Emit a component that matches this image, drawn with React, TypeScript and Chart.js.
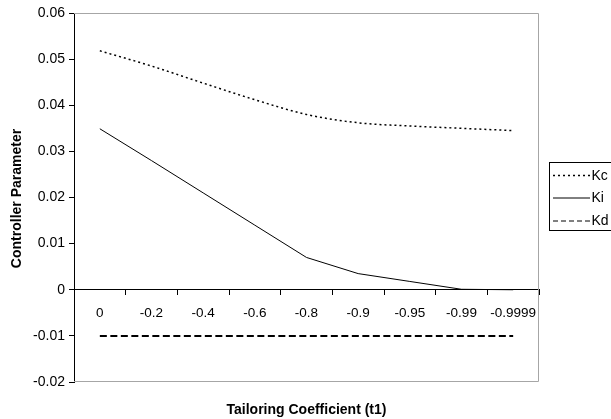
import React, { useEffect, useRef } from "react";
import { Chart, registerables } from "chart.js";

Chart.register(...registerables);

const categories = ["0", "-0.2", "-0.4", "-0.6", "-0.8", "-0.9", "-0.95", "-0.99", "-0.9999"];
const kcValues = [0.0518, 0.0485, 0.0448, 0.0412, 0.038, 0.0362, 0.0355, 0.035, 0.0345];
const kiValues = [0.0349, 0.028, 0.021, 0.014, 0.007, 0.0035, 0.0018, 0.0001, 0.0];
const kdValues = [-0.01, -0.01, -0.01, -0.01, -0.01, -0.01, -0.01, -0.01, -0.01];
const yMin = -0.02;
const yMax = 0.06;
const yStep = 0.01;
const xTitle = "Tailoring Coefficient (t1)";
const yTitle = "Controller Parameter";
const legendItems = [
  { label: "Kc", dash: [2, 3], width: 1.5 },
  { label: "Ki", dash: [], width: 1 },
  { label: "Kd", dash: [5, 3], width: 1 },
];

const FONT = "'Liberation Sans', Arial, sans-serif";

const decorPlugin = {
  id: "decor",
  beforeDatasetsDraw(chart: any) {
    const { ctx, chartArea } = chart;
    const { left, right, top, bottom } = chartArea;
    ctx.save();
    ctx.strokeStyle = "#a6a6a6";
    ctx.lineWidth = 1;
    ctx.beginPath();
    ctx.moveTo(left, top + 0.5);
    ctx.lineTo(right - 0.5, top + 0.5);
    ctx.lineTo(right - 0.5, bottom - 0.5);
    ctx.lineTo(left, bottom - 0.5);
    ctx.stroke();
    ctx.restore();
  },
  afterDraw(chart: any) {
    const { ctx, chartArea } = chart;
    const { left, right, top, bottom } = chartArea;
    ctx.save();
    // axis titles
    ctx.fillStyle = "#000";
    ctx.font = `bold 14px ${FONT}`;
    ctx.textAlign = "center";
    ctx.textBaseline = "middle";
    ctx.fillText(xTitle, (left + right) / 2, 410);
    ctx.save();
    ctx.translate(17.5, (top + bottom) / 2 + 1);
    ctx.rotate(-Math.PI / 2);
    ctx.fillText(yTitle, 0, 0);
    ctx.restore();

    // legend
    const bx = 549.5;
    const by = 162.5;
    const bw = 80;
    const bh = 68;
    ctx.strokeStyle = "#000";
    ctx.lineWidth = 1;
    ctx.strokeRect(bx, by, bw, bh);
    ctx.font = `14px ${FONT}`;
    ctx.textAlign = "left";
    const ys = [175.5, 198, 221];
    legendItems.forEach((it, i) => {
      ctx.beginPath();
      ctx.setLineDash(it.dash);
      ctx.lineWidth = it.width;
      ctx.moveTo(553, ys[i]);
      ctx.lineTo(590, ys[i]);
      ctx.stroke();
      ctx.setLineDash([]);
      ctx.fillText(it.label, 591.5, ys[i] + 0.5);
    });
    ctx.restore();
  },
};

export default function App() {
  const ref = useRef<HTMLCanvasElement | null>(null);
  useEffect(() => {
    if (!ref.current) return;
    const chart = new Chart(ref.current, {
      type: "line",
      data: {
        labels: categories,
        datasets: [
          {
            label: "Kc",
            data: kcValues,
            borderColor: "#000",
            borderWidth: 1.5,
            borderDash: [2, 3],
            pointRadius: 0,
            cubicInterpolationMode: "monotone",
            fill: false,
          },
          {
            label: "Ki",
            data: kiValues,
            borderColor: "#000",
            borderWidth: 1,
            pointRadius: 0,
            tension: 0,
            fill: false,
          },
          {
            label: "Kd",
            data: kdValues,
            borderColor: "#000",
            borderWidth: 2,
            borderDash: [7, 3.5],
            pointRadius: 0,
            fill: false,
          },
        ],
      },
      options: {
        responsive: false,
        animation: false,
        devicePixelRatio: 1,
        layout: { padding: { left: 0, right: 72, top: 13, bottom: 37 } },
        plugins: {
          legend: { display: false },
          tooltip: { enabled: false },
        },
        scales: {
          y: {
            type: "linear",
            position: "left",
            min: yMin,
            max: yMax,
            afterFit(scale: any) {
              scale.width = 74;
            },
            ticks: {
              stepSize: yStep,
              color: "#000",
              font: { family: FONT, size: 14 },
              padding: 4,
              callback: (v: any) => String(Number(Number(v).toFixed(2))),
            },
            grid: {
              drawOnChartArea: false,
              color: "#000",
              tickLength: 5,
            },
            border: { display: true, color: "#000", width: 1 },
          },
          x: {
            type: "category",
            position: { y: 0 } as any,
            offset: true,
            ticks: {
              color: "#000",
              font: { family: FONT, size: 13.5 },
              padding: 10.5,
              maxRotation: 0,
              autoSkip: false,
            },
            grid: {
              offset: true,
              drawOnChartArea: false,
              color: "#000",
              tickLength: 5,
            },
            border: { display: true, color: "#000", width: 1 },
          },
        },
      },
      plugins: [decorPlugin],
    });
    return () => chart.destroy();
  }, []);
  return (
    <div style={{ position: "absolute", left: 0, top: 0, width: 611, height: 419, background: "#fff" }}>
      <canvas ref={ref} width={611} height={419} style={{ display: "block", width: 611, height: 419 }} />
    </div>
  );
}
